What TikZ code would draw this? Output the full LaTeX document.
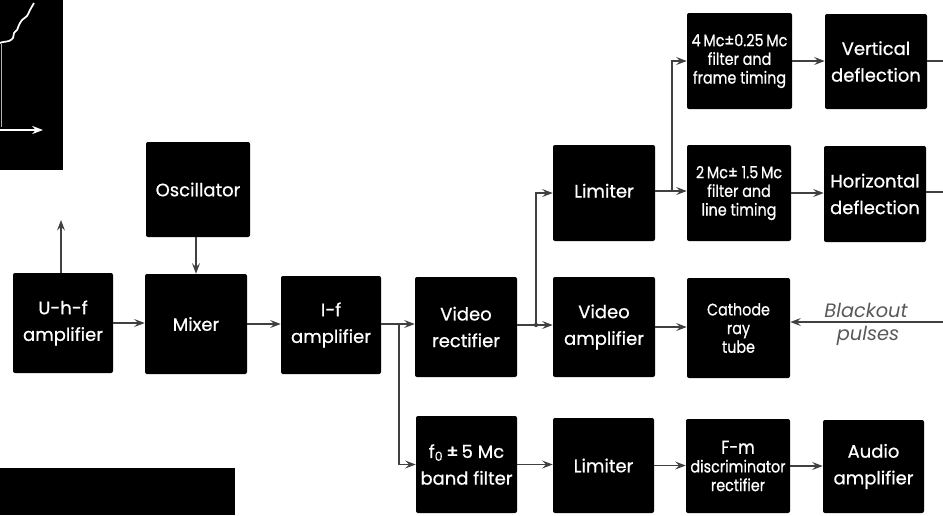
\documentclass[tikz,border=0pt]{standalone}
\usepackage{fontspec}
\setmainfont{Poppins}
\newfontfamily\boxfont{Poppins}[FakeBold=0.7]
\newfontfamily\boxcond{Poppins}[FakeBold=0.7,FakeStretch=0.86]
\usetikzlibrary{arrows.meta}
\begin{document}
\begin{tikzpicture}[x=0.75pt,y=-0.75pt,
  blk/.style={fill=black, rounded corners=1.5pt, text=white, align=center, inner sep=0pt,
    font=\boxfont\fontsize{13.5}{20}\selectfont},
  smalltext/.style={font=\boxcond\fontsize{12.5}{14}\selectfont},
  conn/.style={draw=black!75, line width=0.8pt},
  arr/.style={conn, -{Stealth[length=8pt,width=6pt,inset=3pt]}},
  note/.style={font=\fontsize{14.5}{16}\selectfont\itshape, text=black!65, inner sep=0pt},
]
\useasboundingbox (0,0) rectangle (943,515);
% panels cut at the edges
\fill (0,0) rectangle (63,170);
\draw[white,line width=1.3pt] plot[smooth] coordinates {(34,3) (30,10) (27,16) (22,20) (19,25) (17,30) (14,33) (13,38) (9,41) (3,42) (0,43)};
\draw[white!70!black,line width=0.5pt] (1,44) -- (1,127);
\draw[white,line width=1.5pt,-{Stealth[length=8pt,width=6pt,inset=2.5pt]}] (0,130) -- (43,130);
\fill (0,468) rectangle (235,515);
% boxes
\node[blk, minimum width=75pt, minimum height=75pt] (uhf) at (63,323) {U-h-f\\amplifier};
\node[blk, minimum width=76.5pt, minimum height=75pt] (mixer) at (196,324) {Mixer};
\node[blk, minimum width=78pt, minimum height=71.25pt] (osc) at (198,189.5) {Oscillator};
\node[blk, minimum width=75pt, minimum height=73.5pt] (if) at (331,325) {I-f\\amplifier};
\node[blk, minimum width=76.5pt, minimum height=75pt] (vrect) at (466,327) {Video\\rectifier};
\node[blk, minimum width=76.5pt, minimum height=72pt] (lim1) at (604,193) {\raisebox{3.5pt}{Limiter}};
\node[blk, smalltext, minimum width=78.75pt, minimum height=72pt] (f4) at (739.5,61) {4\,Mc±0.25\,Mc\\filter and\\frame timing};
\node[blk, smalltext, minimum width=78pt, minimum height=72pt] (f2) at (739,193) {2\,Mc± 1.5\,Mc\\filter and\\line timing};
\node[blk, minimum width=76.5pt, minimum height=71.25pt] (vdef) at (876,61.5) {Vertical\\deflection};
\node[blk, minimum width=76.5pt, minimum height=72pt] (hdef) at (875,194) {Horizontal\\deflection};
\node[blk, minimum width=76.5pt, minimum height=75pt] (vamp) at (604,327) {Video\\amplifier};
\node[blk, smalltext, minimum width=77.25pt, minimum height=75pt] (crt) at (738.5,328) {Cathode\\ray\\tube};
\node[blk, minimum width=75.75pt, minimum height=72.75pt] (bf) at (466.5,464.5) {f\textsubscript{0}\,±\,5 Mc\\band filter};
\node[blk, minimum width=75.75pt, minimum height=71.25pt] (lim2) at (603.5,465.5) {Limiter};
\node[blk, smalltext, minimum width=78pt, minimum height=70.5pt] (fm) at (738,466) {{\fontsize{14}{14}\selectfont F-m}\\discriminator\\rectifier};
\node[blk, minimum width=75.75pt, minimum height=69.75pt] (audio) at (873.5,466.5) {Audio\\amplifier};
% connectors
\coordinate (ant) at (61,220);
\draw[arr] (uhf.north -| ant) -- (ant);
\draw[arr] (osc.south -| mixer.north) -- (mixer.north);
\draw[arr] (uhf.east) -- (uhf.east -| mixer.west);
\draw[arr] (mixer.east) -- (mixer.east -| if.west);
\coordinate (j1) at (399,324);
\draw[conn] (if.east |- j1) -- (j1);
\draw[arr] (j1) -- (j1 -| vrect.west);
\draw[arr] (j1) |- (bf.west);
\coordinate (j2) at (536,325);
\draw[conn] (vrect.east |- j2) -- (j2);
\draw[arr] (j2) -- (j2 -| vamp.west);
\fill[black!75] (j2) circle[radius=1.6pt];
\draw[arr] (j2) |- (lim1.west);
\coordinate (j3) at (672,191);
\draw[conn] (lim1.east |- j3) -- (j3);
\draw[arr] (j3) -- (j3 -| f2.west);
\draw[arr] (j3) |- (f4.west);
\draw[arr] (f4.east) -- (f4.east -| vdef.west);
\draw[arr] (f2.east) -- (f2.east -| hdef.west);
\coordinate (vout) at (943,61);
\draw[conn] (vdef.east |- vout) -- (vout);
\coordinate (hout) at (943,192);
\draw[conn] (hdef.east |- hout) -- (hout);
\draw[arr] (vamp.east) -- (vamp.east -| crt.west);
\coordinate (bl) at (943,322);
\draw[arr] (bl) -- (bl -| crt.east);
\node[note] (blackout) at (866,310) {Blackout};
\node[note] (pulses) at (868,336) {pulses};
\draw[arr] (bf.east) -- (bf.east -| lim2.west);
\draw[arr] (lim2.east) -- (lim2.east -| fm.west);
\draw[arr] (fm.east) -- (fm.east -| audio.west);
\end{tikzpicture}
\end{document}
